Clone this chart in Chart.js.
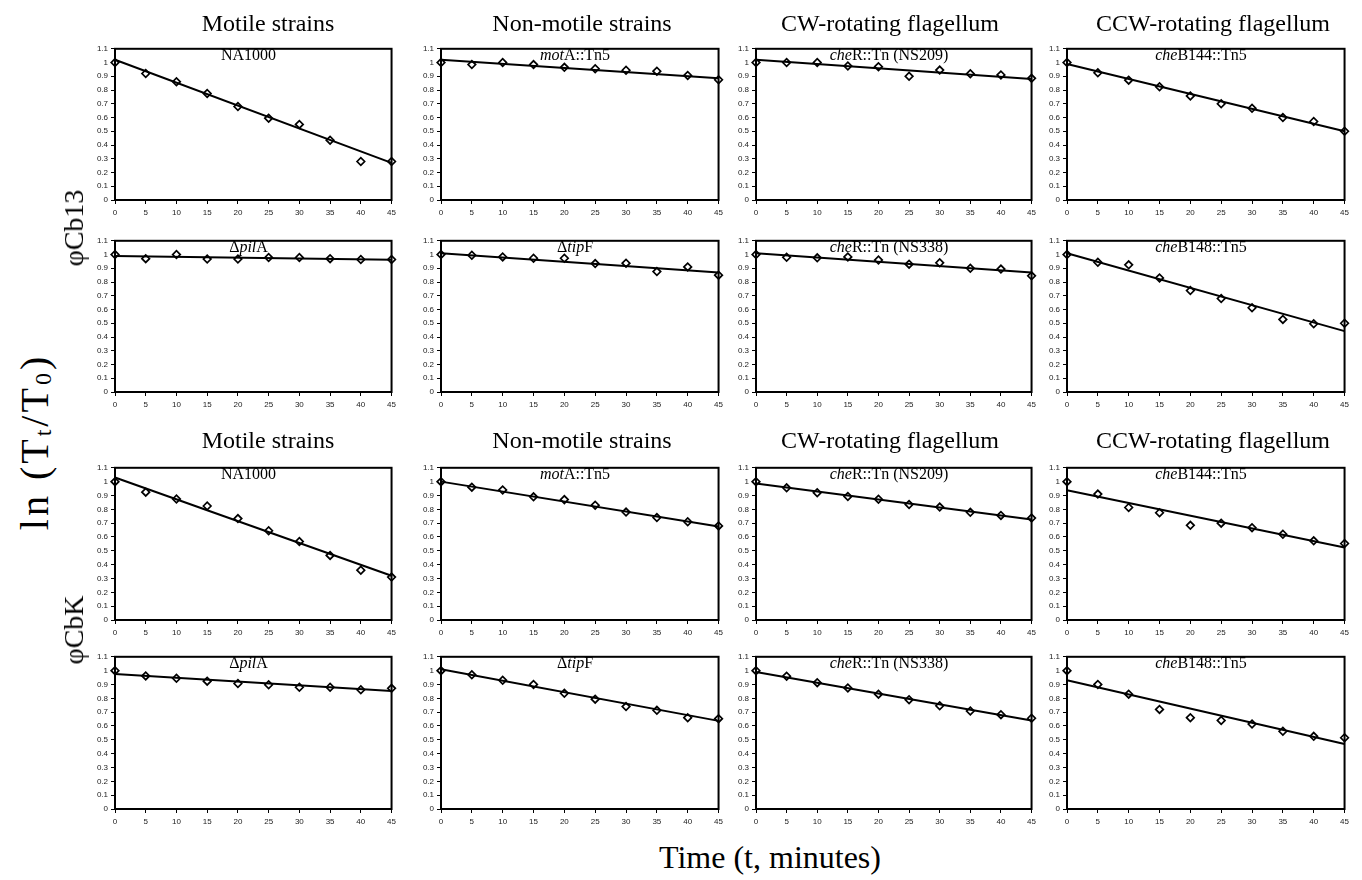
<!DOCTYPE html>
<html>
<head>
<meta charset="utf-8">
<script src="https://cdn.jsdelivr.net/npm/chart.js@4.4.1/dist/chart.umd.min.js"></script>
<style>
  body { margin: 0; background: #fff; }
  #page { position: relative; width: 1362px; height: 880px; overflow: hidden; font-family: "Liberation Serif", "DejaVu Serif", serif; color: #000; }
  .panel { position: absolute; }
  .title { position: absolute; font-size: 24px; line-height: 28px; white-space: nowrap; transform: translateX(-50%); }
  .strain { position: absolute; font-size: 16px; line-height: 18px; white-space: nowrap; transform: translateX(-50%); }
  .vlab { position: absolute; white-space: nowrap; transform: translate(-50%, -50%) rotate(-90deg); }
  sub { font-size: 60%; vertical-align: -0.15em; }
</style>
</head>
<body>
<div id="page"></div>
<script>
// time points (minutes) and axis ticks
const minutes = [0, 5, 10, 15, 20, 25, 30, 35, 40, 45];
const yTicks = [0, 0.1, 0.2, 0.3, 0.4, 0.5, 0.6, 0.7, 0.8, 0.9, 1, 1.1];
const yTickLabels = ['0', '0.1', '0.2', '0.3', '0.4', '0.5', '0.6', '0.7', '0.8', '0.9', '1', '1.1'];
const xTicks = [0, 5, 10, 15, 20, 25, 30, 35, 40, 45];

const columnTitles = ['Motile strains', 'Non-motile strains', 'CW-rotating flagellum', 'CCW-rotating flagellum'];
const strainLabels = [
  'NA1000', '<i>mot</i>A::Tn5', '<i>che</i>R::Tn (NS209)', '<i>che</i>B144::Tn5',
  '&Delta;<i>pil</i>A', '&Delta;<i>tip</i>F', '<i>che</i>R::Tn (NS338)', '<i>che</i>B148::Tn5'
];

// phiCb13, ln(Tt/T0)
const cb13NA1000 = [1.0, 0.92, 0.86, 0.775, 0.68, 0.595, 0.55, 0.435, 0.28, 0.28];
const cb13MotA = [1.0, 0.985, 1.0, 0.985, 0.965, 0.955, 0.944, 0.937, 0.906, 0.875];
const cb13CheR209 = [1.0, 1.0, 1.0, 0.975, 0.97, 0.9, 0.945, 0.918, 0.91, 0.885];
const cb13CheB144 = [1.0, 0.925, 0.872, 0.824, 0.757, 0.70, 0.667, 0.60, 0.571, 0.50];
const cb13PilA = [1.0, 0.97, 1.0, 0.967, 0.967, 0.978, 0.978, 0.97, 0.964, 0.964];
const cb13TipF = [1.0, 0.995, 0.983, 0.973, 0.973, 0.934, 0.937, 0.876, 0.91, 0.85];
const cb13CheR338 = [1.0, 0.98, 0.976, 0.983, 0.96, 0.93, 0.94, 0.90, 0.894, 0.845];
const cb13CheB148 = [1.0, 0.944, 0.925, 0.83, 0.738, 0.68, 0.613, 0.528, 0.496, 0.50];

// phiCbK, ln(Tt/T0)
const cbKNA1000 = [1.0, 0.924, 0.874, 0.824, 0.733, 0.645, 0.567, 0.467, 0.36, 0.31];
const cbKMotA = [1.0, 0.96, 0.94, 0.89, 0.87, 0.83, 0.78, 0.74, 0.71, 0.68];
const cbKCheR209 = [1.0, 0.955, 0.92, 0.893, 0.873, 0.835, 0.816, 0.778, 0.756, 0.737];
const cbKCheB144 = [1.0, 0.91, 0.813, 0.775, 0.684, 0.70, 0.667, 0.62, 0.572, 0.553];
const cbKPilA = [1.0, 0.962, 0.945, 0.924, 0.907, 0.898, 0.88, 0.88, 0.862, 0.872];
const cbKTipF = [1.0, 0.97, 0.93, 0.90, 0.836, 0.794, 0.74, 0.713, 0.66, 0.653];
const cbKCheR338 = [1.0, 0.96, 0.913, 0.875, 0.83, 0.79, 0.746, 0.708, 0.682, 0.656];
const cbKCheB148 = [1.0, 0.90, 0.83, 0.72, 0.66, 0.64, 0.614, 0.562, 0.525, 0.515];

// fitted trend lines, value at 0 and 45 min
const cb13NA1000Fit = [1.02, 0.27];
const cb13MotAFit = [1.02, 0.885];
const cb13CheR209Fit = [1.02, 0.88];
const cb13CheB144Fit = [0.99, 0.50];
const cb13PilAFit = [0.99, 0.962];
const cb13TipFFit = [1.01, 0.87];
const cb13CheR338Fit = [1.01, 0.87];
const cb13CheB148Fit = [1.01, 0.443];
const cbKNA1000Fit = [1.03, 0.32];
const cbKMotAFit = [1.0, 0.675];
const cbKCheR209Fit = [0.986, 0.727];
const cbKCheB144Fit = [0.938, 0.524];
const cbKPilAFit = [0.976, 0.853];
const cbKTipFFit = [1.01, 0.637];
const cbKCheR338Fit = [0.99, 0.64];
const cbKCheB148Fit = [0.93, 0.47];

const panelSeries = [
  cb13NA1000, cb13MotA, cb13CheR209, cb13CheB144,
  cb13PilA, cb13TipF, cb13CheR338, cb13CheB148,
  cbKNA1000, cbKMotA, cbKCheR209, cbKCheB144,
  cbKPilA, cbKTipF, cbKCheR338, cbKCheB148
];
const panelFits = [
  cb13NA1000Fit, cb13MotAFit, cb13CheR209Fit, cb13CheB144Fit,
  cb13PilAFit, cb13TipFFit, cb13CheR338Fit, cb13CheB148Fit,
  cbKNA1000Fit, cbKMotAFit, cbKCheR209Fit, cbKCheB144Fit,
  cbKPilAFit, cbKTipFFit, cbKCheR338Fit, cbKCheB148Fit
];

// layout of the plot areas (px)
const colLeft = [115, 441, 756, 1067];
const colRight = [392, 719, 1032, 1345];
const rowTop = [47, 239, 466, 655];
const rowBottom = [200, 392, 620, 809];
const Y_AXIS_W = 30, X_AXIS_H = 24, PAD_T = 6, PAD_R = 8;

const page = document.getElementById('page');

function addDiv(cls, html, style) {
  const d = document.createElement('div');
  d.className = cls;
  d.innerHTML = html;
  Object.assign(d.style, style);
  page.appendChild(d);
  return d;
}

// frame around the plot area
const framePlugin = {
  id: 'frame',
  afterDraw(chart) {
    const { ctx, chartArea: a } = chart;
    ctx.save();
    ctx.strokeStyle = '#000';
    ctx.lineWidth = 2;
    ctx.strokeRect(a.left, a.top, a.right - a.left, a.bottom - a.top);
    ctx.restore();
  }
};

const tickFont = { family: '"Liberation Sans", Arial, sans-serif', size: 8 };

for (let i = 0; i < 16; i++) {
  const r = Math.floor(i / 4), c = i % 4;
  const L = colLeft[c], R = colRight[c], T = rowTop[r], B = rowBottom[r];
  const w = (R - L) + Y_AXIS_W + PAD_R;
  const h = (B - T) + PAD_T + X_AXIS_H;

  const holder = document.createElement('div');
  holder.className = 'panel';
  holder.style.left = (L - Y_AXIS_W) + 'px';
  holder.style.top = (T - PAD_T) + 'px';
  const cv = document.createElement('canvas');
  cv.width = w; cv.height = h;
  cv.style.width = w + 'px'; cv.style.height = h + 'px';
  holder.appendChild(cv);
  page.appendChild(holder);

  const series = panelSeries[i];
  const fit = panelFits[i];

  new Chart(cv, {
    type: 'scatter',
    data: {
      datasets: [
        {
          type: 'line',
          data: [{ x: xTicks[0], y: fit[0] }, { x: xTicks[xTicks.length - 1], y: fit[1] }],
          borderColor: '#000',
          borderWidth: 2,
          pointRadius: 0,
          clip: false
        },
        {
          data: minutes.map((m, k) => ({ x: m, y: series[k] })),
          pointStyle: 'rectRot',
          pointRadius: 3.8,
          pointBorderWidth: 1.7,
          pointBackgroundColor: '#fff',
          pointBorderColor: '#000',
          clip: false
        }
      ]
    },
    options: {
      responsive: false,
      animation: false,
      devicePixelRatio: 1,
      layout: { padding: { left: 0, top: PAD_T, right: PAD_R, bottom: 0 } },
      plugins: { legend: { display: false }, tooltip: { enabled: false } },
      scales: {
        x: {
          type: 'linear',
          min: 0, max: 45,
          afterBuildTicks: (s) => { s.ticks = xTicks.map(v => ({ value: v })); },
          afterFit: (s) => { s.height = X_AXIS_H; },
          ticks: { font: tickFont, color: '#222', maxRotation: 0, autoSkip: false, padding: 4,
                   callback: (v) => String(v) },
          grid: { drawOnChartArea: false, drawTicks: true, tickLength: 4, color: '#000', lineWidth: 1 },
          border: { display: true, color: '#000', width: 2 }
        },
        y: {
          type: 'linear',
          min: 0, max: 1.1,
          afterBuildTicks: (s) => { s.ticks = yTicks.map(v => ({ value: v })); },
          afterFit: (s) => { s.width = Y_AXIS_W; },
          ticks: { font: tickFont, color: '#222', padding: 3,
                   callback: (v, idx) => yTickLabels[idx] },
          grid: { drawOnChartArea: false, drawTicks: true, tickLength: 4, color: '#000', lineWidth: 1 },
          border: { display: true, color: '#000', width: 2 }
        }
      }
    },
    plugins: [framePlugin]
  });

  // strain label inside the plot
  const sIdx = (r % 2) * 4 + c;
  addDiv('strain', strainLabels[sIdx], { left: ((L + R) / 2 - 5) + 'px', top: (T - 1) + 'px' });
}

// column titles (two blocks)
const titleX = [268, 582, 890, 1213];
const titleY = [9, 426];
for (const ty of titleY) {
  columnTitles.forEach((t, c) => addDiv('title', t, { left: titleX[c] + 'px', top: ty + 'px' }));
}

// side labels
addDiv('vlab', 'ln (T<sub>t</sub>/T<sub>0</sub>)', { left: '34px', top: '442px', fontSize: '40px', letterSpacing: '3px' });
addDiv('vlab', '&phi;Cb13', { left: '74px', top: '228px', fontSize: '28px' });
addDiv('vlab', '&phi;CbK', { left: '74px', top: '630px', fontSize: '28px' });
addDiv('title', 'Time (t, minutes)', { left: '770px', top: '839px', fontSize: '32px', lineHeight: '36px' });
</script>
</body>
</html>
